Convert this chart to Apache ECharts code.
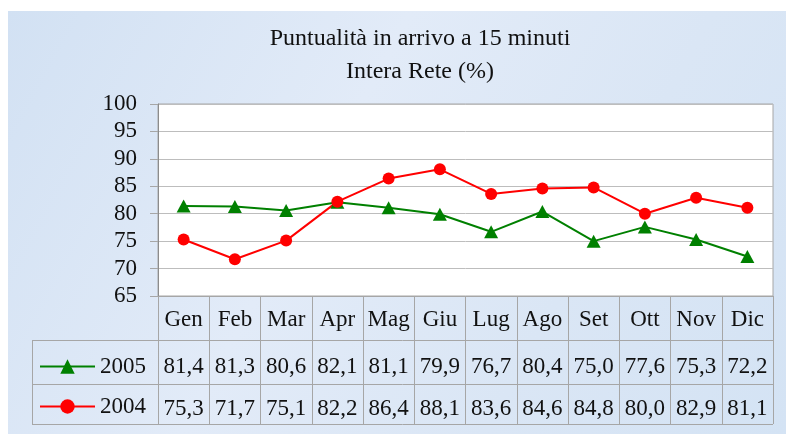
<!DOCTYPE html>
<html>
<head>
<meta charset="utf-8">
<script src="https://cdn.jsdelivr.net/npm/echarts@6/dist/echarts.min.js"></script>
<style>
html,body{margin:0;padding:0;background:#fff}
#chart{width:786px;height:434px}
</style>
</head>
<body>
<div id="chart"></div>
<script>
var mesi = ['Gen','Feb','Mar','Apr','Mag','Giu','Lug','Ago','Set','Ott','Nov','Dic'];
var anno2005 = [81.4,81.3,80.6,82.1,81.1,79.9,76.7,80.4,75.0,77.6,75.3,72.2];
var anno2004 = [75.3,71.7,75.1,82.2,86.4,88.1,83.6,84.6,84.8,80.0,82.9,81.1];
var serie = ['2005','2004'];
var titolo = ['Puntualità in arrivo a 15 minuti','Intera Rete (%)'];

var font = 'Liberation Serif';
var grigio = '#a6a6a6';

function virgola(v){
    return v.toFixed(1).replace('.',',');
}

var myChart = echarts.init(document.getElementById('chart'));

var option = {
    backgroundColor: '#ffffff',
    animation: false,
    textStyle: {fontFamily: font},
    grid: {
        left: 158, top: 104, right: 13, bottom: 138,
        show: true, backgroundColor: '#ffffff', borderColor: grigio, borderWidth: 1
    },
    legend: [
        {
            data: [serie[0]], left: 39, top: 355, padding: 0, itemWidth: 55, itemHeight: 18,
            textStyle: {fontFamily: font, fontSize: 23, color: '#111'}
        },
        {
            data: [serie[1]], left: 39, top: 395, padding: 0, itemWidth: 55, itemHeight: 18,
            textStyle: {fontFamily: font, fontSize: 23, color: '#111'}
        }
    ],
    xAxis: [
        {
            type: 'category', data: mesi, position: 'bottom',
            axisLine: {lineStyle: {color: grigio}},
            axisTick: {show: true, length: 44, interval: 0, lineStyle: {color: grigio}},
            axisLabel: {interval: 0, margin: 24, verticalAlign: 'middle', fontSize: 23, color: '#111', fontFamily: font}
        },
        {
            type: 'category', data: mesi, position: 'bottom', offset: 44,
            axisLine: {show: false},
            axisTick: {show: true, length: 44, interval: 0, lineStyle: {color: grigio}},
            axisLabel: {
                interval: 0, margin: 27, verticalAlign: 'middle', fontSize: 23, color: '#111', fontFamily: font,
                formatter: function(v, i){ return virgola(anno2005[i]); }
            }
        },
        {
            type: 'category', data: mesi, position: 'bottom', offset: 88,
            axisLine: {show: false},
            axisTick: {show: true, length: 40, interval: 0, lineStyle: {color: grigio}},
            axisLabel: {
                interval: 0, margin: 25, verticalAlign: 'middle', fontSize: 23, color: '#111', fontFamily: font,
                formatter: function(v, i){ return virgola(anno2004[i]); }
            }
        }
    ],
    yAxis: {
        type: 'value', min: 65, max: 100, interval: 5,
        axisLine: {show: true, lineStyle: {color: '#8c8c8c'}},
        axisTick: {show: true, length: 8, lineStyle: {color: grigio}},
        axisLabel: {margin: 21, fontSize: 23, color: '#111', fontFamily: font},
        splitLine: {lineStyle: {color: '#bdbdbd'}}
    },
    series: [
        {
            name: serie[0], type: 'line', data: anno2005,
            symbol: 'triangle', symbolSize: [14, 13],
            lineStyle: {color: '#008000', width: 2},
            itemStyle: {color: '#008000'}
        },
        {
            name: serie[1], type: 'line', data: anno2004,
            symbol: 'circle', symbolSize: 12,
            lineStyle: {color: '#ff0000', width: 2},
            itemStyle: {color: '#ff0000'}
        }
    ],
    graphic: [
        {
            type: 'rect', z: -10, silent: true,
            shape: {x: 8, y: 11, width: 778, height: 423},
            style: {
                fill: new echarts.graphic.LinearGradient(0, 0, 1, 1, [
                    {offset: 0, color: '#d2e1f3'},
                    {offset: 0.4, color: '#e2ebf8'},
                    {offset: 0.7, color: '#dae6f5'},
                    {offset: 1, color: '#d4e3f4'}
                ])
            }
        },
        {
            type: 'text', z: 10, x: 420, y: 22,
            style: {
                text: titolo[0] + '\n' + titolo[1], textAlign: 'center',
                font: '24px "Liberation Serif"', fill: '#111', lineHeight: 33
            }
        },
        {type: 'line', z: 5, shape: {x1: 32, y1: 340.5, x2: 773, y2: 340.5}, style: {stroke: grigio, lineWidth: 1}},
        {type: 'line', z: 5, shape: {x1: 32, y1: 384.5, x2: 773, y2: 384.5}, style: {stroke: grigio, lineWidth: 1}},
        {type: 'line', z: 5, shape: {x1: 32, y1: 424.5, x2: 773, y2: 424.5}, style: {stroke: grigio, lineWidth: 1}},
        {type: 'line', z: 5, shape: {x1: 32.5, y1: 340, x2: 32.5, y2: 425}, style: {stroke: grigio, lineWidth: 1}}
    ]
};
myChart.setOption(option);
</script>
</body>
</html>
